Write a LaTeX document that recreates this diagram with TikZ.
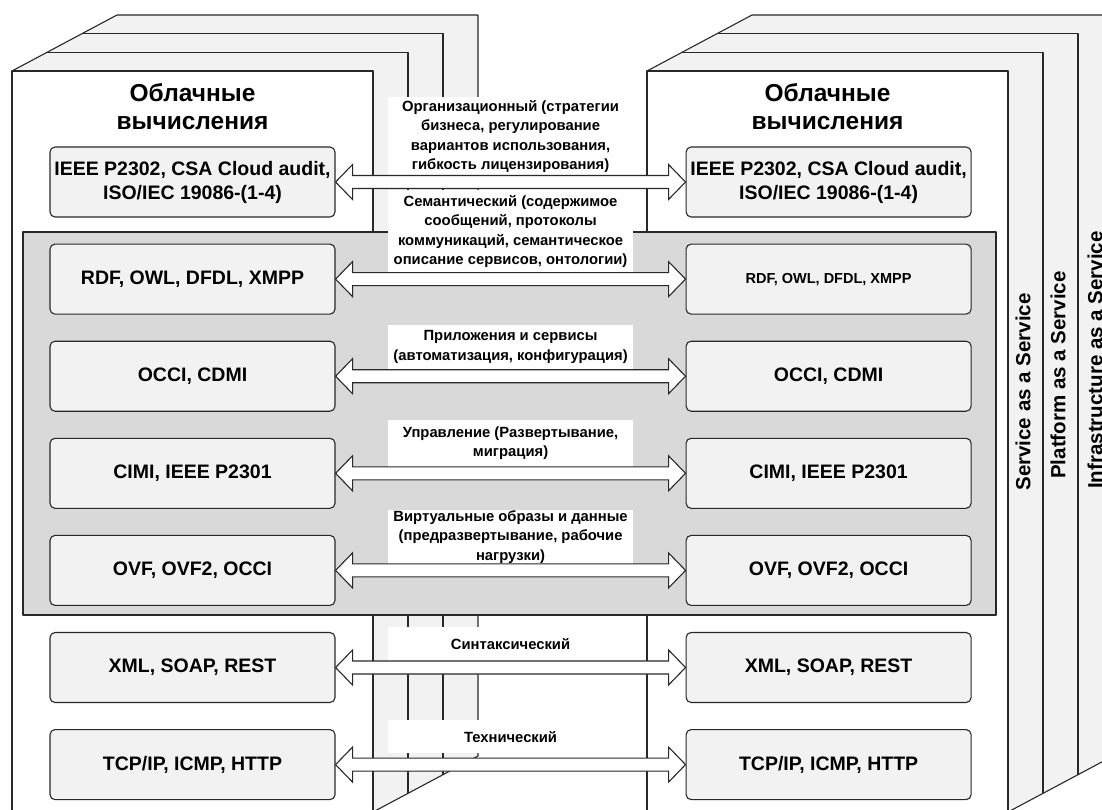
\documentclass[tikz,border=0pt]{standalone}
\usepackage{fontspec}
\setmainfont{Liberation Sans}
\usetikzlibrary{positioning}
\usetikzlibrary{calc}
\definecolor{lineGray}{RGB}{40,40,40}
\definecolor{faceGray}{RGB}{242,242,242}
\definecolor{panelGray}{RGB}{217,217,217}

\tikzset{
  face/.style={draw=lineGray, line width=1.1pt, fill=faceGray, line join=round},
  stdbox/.style={draw=lineGray, line width=1.1pt, fill=faceGray, rounded corners=5pt,
    minimum width=285pt, minimum height=70pt, inner sep=0pt, align=center,
    font=\bfseries\fontsize{19.5}{24}\selectfont},
  cloudtitle/.style={align=center, font=\bfseries\fontsize{24.5}{28}\selectfont},
  levellabel/.style={fill=white, inner sep=0pt, minimum width=245pt, align=center,
    anchor=south, font=\bfseries\fontsize{14.8}{19.5}\selectfont},
  exchange/.style={draw=lineGray, line width=1.1pt, fill=white, line join=miter},
  service/.style={rotate=90, font=\bfseries\fontsize{20.5}{24}\selectfont},
}

\begin{document}
\begin{tikzpicture}[x=1pt,y=-1pt]
\path[use as bounding box, clip] (0,0) rectangle (1102,809);
\newcommand\Exchange[2]{\draw[exchange] (#1.east) -- ++(17,-17.5) -- ++(0,11)
  -- ($(#2.west)+(-17,-6.5)$) -- ++(0,-11) -- (#2.west) -- ++(-17,17.5) -- ++(0,-11)
  -- ($(#1.east)+(17,6.5)$) -- ++(0,11) -- cycle;}

% two cubes, three slabs deep (SaaS, PaaS, IaaS)
\foreach \dx in {0,635} {
  \draw[face] (12+\dx,71) -- (117+\dx,15) -- (478+\dx,15) -- (478+\dx,756)
    -- (373+\dx,812) -- (373+\dx,71) -- cycle;
  \draw[face, fill=white] (12+\dx,71) rectangle (373+\dx,812);
  \foreach \k in {1,2}
    \draw[face, fill=none] (12+\dx+35*\k,71-18.67*\k) -- (373+\dx+35*\k,71-18.67*\k)
      -- (373+\dx+35*\k,812-18.67*\k);
}

% shaded band of the middle levels
\draw[face, fill=panelGray] (23,232) rectangle (996,615);

\node[cloudtitle] (ttlL) at (192.5,107) {Облачные\\вычисления};
\node[cloudtitle] (ttlR) at (827.5,107) {Облачные\\вычисления};

% left stack
\node[stdbox] (l1) at (192.5,182) {IEEE P2302, CSA Cloud audit,\\ISO/IEC 19086-(1-4)};
\node[stdbox, below=26pt of l1] (l2) {RDF, OWL, DFDL, XMPP};
\node[stdbox, below=26pt of l2] (l3) {OCCI, CDMI};
\node[stdbox, below=26pt of l3] (l4) {CIMI, IEEE P2301};
\node[stdbox, below=26pt of l4] (l5) {OVF, OVF2, OCCI};
\node[stdbox, below=26pt of l5] (l6) {XML, SOAP, REST};
\node[stdbox, below=26pt of l6] (l7) {TCP/IP, ICMP, HTTP};

% right stack
\node[stdbox, right=350pt of l1] (r1) {IEEE P2302, CSA Cloud audit,\\ISO/IEC 19086-(1-4)};
\node[stdbox, right=350pt of l2, font=\bfseries\fontsize{14.5}{18}\selectfont] (r2) {RDF, OWL, DFDL, XMPP};
\node[stdbox, right=350pt of l3] (r3) {OCCI, CDMI};
\node[stdbox, right=350pt of l4] (r4) {CIMI, IEEE P2301};
\node[stdbox, right=350pt of l5] (r5) {OVF, OVF2, OCCI};
\node[stdbox, right=350pt of l6] (r6) {XML, SOAP, REST};
\node[stdbox, right=350pt of l7] (r7) {TCP/IP, ICMP, HTTP};

% level names
\node[levellabel, minimum height=78pt] (t1) at ($(l1.east)!0.5!(r1.west)+(0,-6.5)$)
  {Организационный (стратегии\\бизнеса, регулирование\\вариантов использования,\\гибкость лицензирования)};
\node[levellabel, minimum height=82pt] (t2) at ($(l2.east)!0.5!(r2.west)+(0,-6.5)$)
  {Семантический (содержимое\\сообщений, протоколы\\коммуникаций, семантическое\\описание сервисов, онтологии)};
\node[levellabel, minimum height=45pt] (t3) at ($(l3.east)!0.5!(r3.west)+(0,-6.5)$)
  {Приложения и сервисы\\(автоматизация, конфигурация)};
\node[levellabel, minimum height=47pt] (t4) at ($(l4.east)!0.5!(r4.west)+(0,-6.5)$)
  {Управление (Развертывание,\\миграция)};
\node[levellabel, minimum height=54pt] (t5) at ($(l5.east)!0.5!(r5.west)+(0,-6.5)$)
  {Виртуальные образы и данные\\(предразвертывание, рабочие\\нагрузки)};
\node[levellabel, minimum height=34pt] (t6) at ($(l6.east)!0.5!(r6.west)+(0,-6.5)$)
  {Синтаксический};
\node[levellabel, minimum height=33pt] (t7) at ($(l7.east)!0.5!(r7.west)+(0,-11)$)
  {Технический};

% interoperability arrows
\Exchange{l1}{r1}
\Exchange{l2}{r2}
\Exchange{l3}{r3}
\Exchange{l4}{r4}
\Exchange{l5}{r5}
\Exchange{l6}{r6}
\Exchange{l7}{r7}

% service models on the side of the right cube
\node[service] (saas) at (1023,392) {Service as a Service};
\node[service] (paas) at (1058,375) {Platform as a Service};
\node[service] (iaas) at (1095,360) {Infrastructure as a Service};
\end{tikzpicture}
\end{document}
